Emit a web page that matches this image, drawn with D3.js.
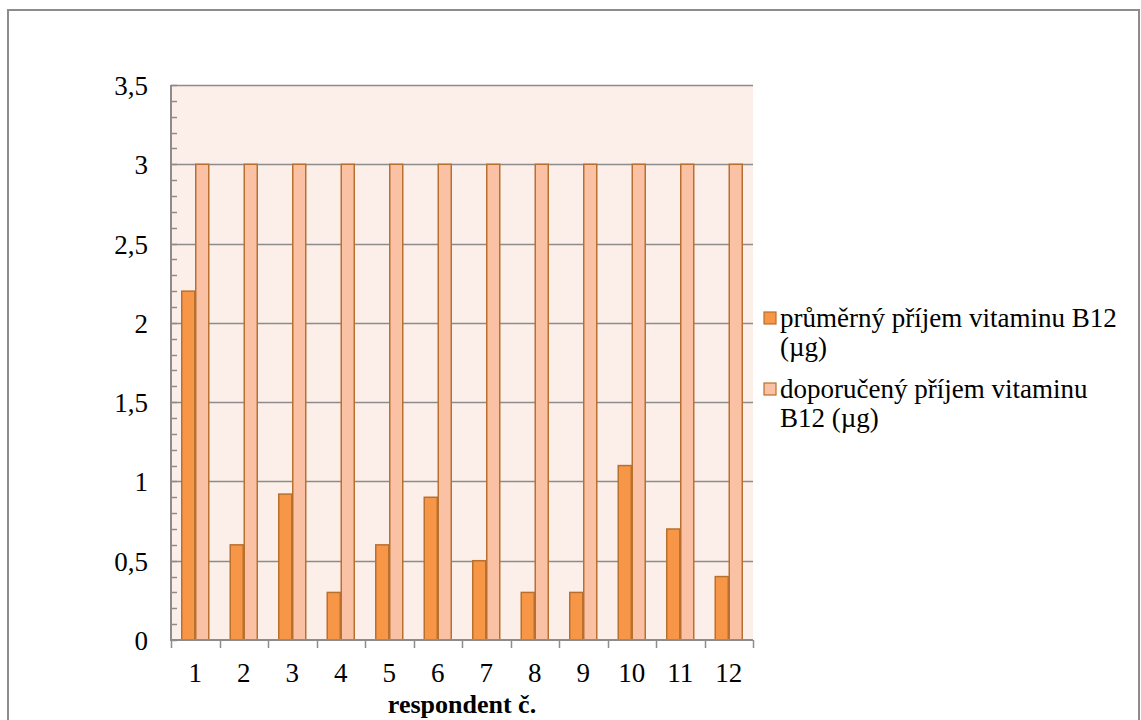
<!DOCTYPE html>
<html>
<head>
<meta charset="utf-8">
<script src="https://cdn.jsdelivr.net/npm/d3@7"></script>
<style>
  html, body { margin: 0; padding: 0; background: #fff; }
</style>
</head>
<body>
<svg id="chart" width="1141" height="720" font-family="'Liberation Serif', 'Times New Roman', Times, 'DejaVu Serif', serif"></svg>
<script>
// Respondents and vitamin B12 intake (µg)
const respondents = ["1","2","3","4","5","6","7","8","9","10","11","12"];
const averageIntake = [2.2, 0.6, 0.92, 0.3, 0.6, 0.9, 0.5, 0.3, 0.3, 1.1, 0.7, 0.4];
const recommendedIntake = [3, 3, 3, 3, 3, 3, 3, 3, 3, 3, 3, 3];
const seriesNames = ["průměrný příjem vitaminu B12 (µg)", "doporučený příjem vitaminu B12 (µg)"];
const yTicks = [0, 0.5, 1, 1.5, 2, 2.5, 3, 3.5];
const xTitle = "respondent č.";

const svg = d3.select("#chart");
const margin = { left: 171, right: 753, top: 85, bottom: 640 };
const fontSize = 27;

// Outer chart frame
svg.append("rect")
  .attr("x", 8).attr("y", 10).attr("width", 1131).attr("height", 730)
  .attr("fill", "#fff").attr("stroke", "#8c8c8c").attr("stroke-width", 2);

const x = d3.scaleBand().domain(respondents).range([margin.left, margin.right]).padding(0);
const y = d3.scaleLinear().domain([0, 3.5]).range([margin.bottom, margin.top]);

// Plot area background
svg.append("rect")
  .attr("x", margin.left).attr("y", margin.top)
  .attr("width", margin.right - margin.left).attr("height", margin.bottom - margin.top)
  .attr("fill", "#fcefe9");

// Major gridlines
svg.append("g").selectAll("line").data(yTicks.filter(d => d > 0)).join("line")
  .attr("x1", margin.left).attr("x2", margin.right)
  .attr("y1", d => Math.round(y(d)) + 0.5).attr("y2", d => Math.round(y(d)) + 0.5)
  .attr("stroke", "#8c8c8c").attr("stroke-width", 1.5);

// Bars
const groupW = 28;
const sub = d3.scaleBand().domain([0, 1]).range([0, groupW]).padding(0);
const series = [
  { values: averageIntake, fill: "#f79646" },
  { values: recommendedIntake, fill: "#fac1a4" }
];
series.forEach((s, si) => {
  svg.append("g").selectAll("rect").data(respondents).join("rect")
    .attr("x", d => x(d) + (x.bandwidth() - groupW) / 2 + sub(si) + 0.5)
    .attr("y", (d, i) => y(s.values[i]))
    .attr("width", sub.bandwidth() - 1)
    .attr("height", (d, i) => y(0) - y(s.values[i]))
    .attr("fill", s.fill)
    .attr("stroke", "#b8702f").attr("stroke-width", 1.5);
});

// Y axis: line, minor ticks (inside), labels
const yAxisG = svg.append("g");
yAxisG.append("line")
  .attr("x1", margin.left).attr("x2", margin.left)
  .attr("y1", margin.top).attr("y2", margin.bottom)
  .attr("stroke", "#8c8c8c").attr("stroke-width", 2);
const minor = d3.range(0, 36).map(i => i / 10);
yAxisG.selectAll("line.minor").data(minor).join("line").attr("class", "minor")
  .attr("x1", margin.left).attr("x2", margin.left + 6)
  .attr("y1", d => Math.round(y(d)) + 0.5).attr("y2", d => Math.round(y(d)) + 0.5)
  .attr("stroke", "#8c8c8c").attr("stroke-width", 1.5);
yAxisG.selectAll("text").data(yTicks).join("text")
  .attr("x", 148).attr("y", d => y(d) + 10)
  .attr("text-anchor", "end").attr("font-size", fontSize)
  .text(d => d3.format(".1~f")(d).replace(".", ","));

// X axis: baseline, ticks between categories, labels
const xAxisG = svg.append("g");
xAxisG.append("line")
  .attr("x1", margin.left - 1).attr("x2", margin.right)
  .attr("y1", margin.bottom).attr("y2", margin.bottom)
  .attr("stroke", "#8c8c8c").attr("stroke-width", 2);
const bounds = respondents.map(d => x(d)).concat([margin.right]);
xAxisG.selectAll("line.tick").data(bounds).join("line").attr("class", "tick")
  .attr("x1", d => Math.round(d) + 0.5).attr("x2", d => Math.round(d) + 0.5)
  .attr("y1", margin.bottom).attr("y2", margin.bottom + 8)
  .attr("stroke", "#8c8c8c").attr("stroke-width", 1.5);
xAxisG.selectAll("text").data(respondents).join("text")
  .attr("x", d => x(d) + x.bandwidth() / 2).attr("y", 682)
  .attr("text-anchor", "middle").attr("font-size", fontSize)
  .text(d => d);

svg.append("text")
  .attr("x", (margin.left + margin.right) / 2).attr("y", 713)
  .attr("text-anchor", "middle").attr("font-size", 26).attr("font-weight", "bold")
  .text(xTitle);

// Legend
const legendItems = [
  { lines: ["průměrný příjem vitaminu B12", "(µg)"], fill: series[0].fill, y: 327 },
  { lines: ["doporučený příjem vitaminu", "B12 (µg)"], fill: series[1].fill, y: 398 }
];
const leg = svg.append("g");
legendItems.forEach(item => {
  leg.append("rect")
    .attr("x", 764).attr("y", item.y - 15).attr("width", 12).attr("height", 12)
    .attr("fill", item.fill).attr("stroke", "#b8702f").attr("stroke-width", 1.2);
  item.lines.forEach((t, j) => {
    leg.append("text")
      .attr("x", 780).attr("y", item.y + j * 29)
      .attr("font-size", fontSize)
      .text(t);
  });
});
</script>
</body>
</html>
